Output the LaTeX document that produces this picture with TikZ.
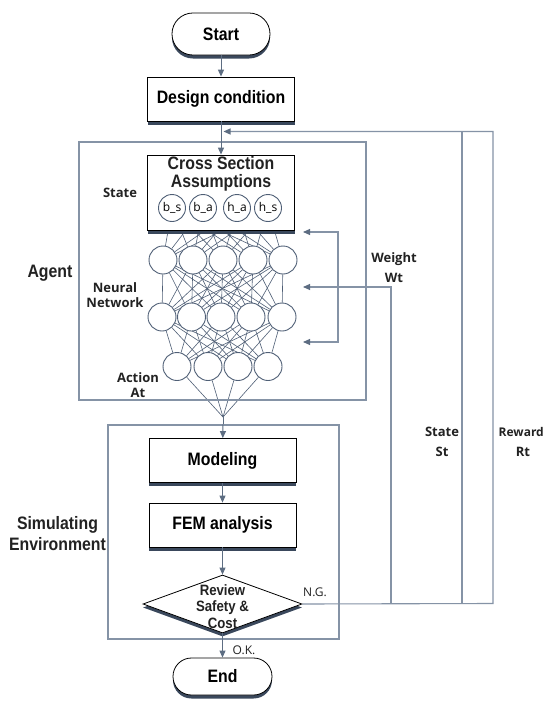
\documentclass[tikz,border=0pt]{standalone}
\usepackage{fontspec}
\setmainfont{Liberation Sans}
\newfontfamily\hfont[FakeStretch=0.88]{Liberation Sans}
\newfontfamily\lfont{Open Sans}
\usetikzlibrary{arrows.meta,shadows,shapes.geometric}
\pgfdeclarelayer{bg}
\pgfsetlayers{bg,main}
\definecolor{lc}{HTML}{5D6D82}
\definecolor{bc}{HTML}{8593A6}
\definecolor{cc}{HTML}{4F5F76}
\definecolor{sc}{HTML}{3A485C}
\definecolor{tc}{HTML}{222222}
\tikzset{
  shad/.style={drop shadow={shadow xshift=0pt,shadow yshift=-3.5pt,fill=sc,opacity=1}},
  termbox/.style={draw=black, line width=0.8pt, fill=white, shad,
    font=\hfont\bfseries\fontsize{18}{20}\selectfont},
  procbox/.style={draw=black, line width=0.8pt, fill=white, shad,
    minimum width=147pt, minimum height=44pt, inner sep=0pt,
    font=\hfont\bfseries\fontsize{18}{20}\selectfont},
  neuron/.style={circle, draw=cc, line width=0.9pt, fill=white, minimum size=28pt, inner sep=0pt},
  snode/.style={circle, draw=cc, line width=0.9pt, fill=white, minimum size=27pt, inner sep=0pt,
    font=\lfont\fontsize{12}{12}\selectfont},
  nnedge/.style={draw=cc, line width=0.6pt},
  conn/.style={draw=lc, line width=1pt, -{Triangle[length=7pt,width=6pt]}},
  fb/.style={draw=bc, line width=1.1pt},
  fbarrow/.style={fb, -{Triangle[length=7pt,width=6pt,color=lc]}},
  fbboth/.style={fb, {Triangle[length=7pt,width=6pt,color=lc]}-{Triangle[length=7pt,width=6pt,color=lc]}},
  groupbox/.style={draw=bc, line width=1.1pt, inner sep=0pt},
  hlab/.style={font=\hfont\bfseries\fontsize{18}{21}\selectfont, align=center, text=tc},
  slab/.style={font=\lfont\bfseries\fontsize{13}{15}\selectfont, align=center, text=tc},
  rlab/.style={font=\lfont\fontsize{12}{14}\selectfont, text=tc}
}
\begin{document}
\begin{tikzpicture}[x=1pt,y=-1pt]
\useasboundingbox (0,0) rectangle (545,704);
\begin{pgfonlayer}{bg}
\fill[white] (0,0) rectangle (545,704);
\end{pgfonlayer}

% group boxes
\node[groupbox, minimum width=287pt, minimum height=258pt] (agent) at (222.5,271) {};
\node[groupbox, minimum width=231pt, minimum height=214pt] (env) at (223.5,532) {};

% flow boxes
\node[termbox, minimum width=98pt, minimum height=42pt, rounded corners=20.9pt] (start) at (221,34) {Start};
\node[procbox] (design) at (221,99) {Design condition};
\node[procbox, minimum height=75pt] (cs) at (221,192.5) {};
\node[font=\hfont\bfseries\fontsize{18}{18}\selectfont, align=center, text=tc] (cst) at (221,174) {Cross Section\\Assumptions};
\node[procbox] (model) at (222.5,460.5) {Modeling};
\node[procbox] (fem) at (222.5,525) {FEM analysis};
\node[diamond, draw=black, line width=0.8pt, fill=white, shad, minimum width=159pt, minimum height=58pt, inner sep=0pt] (dia) at (222.5,604) {};
\node[font=\hfont\bfseries\fontsize{15}{16.5}\selectfont, align=center, text=tc] (diat) at (222.5,606.5) {Review\\Safety \&\\Cost};
\node[termbox, minimum width=99pt, minimum height=37pt, rounded corners=18.4pt] (end) at (222.5,676.5) {End};

% neurons
\node[snode] (s1) at (172,208) {b\_s};
\node[snode] (s2) at (203,208) {b\_a};
\node[snode] (s3) at (237,208) {h\_a};
\node[snode] (s4) at (268,208) {h\_s};
\foreach \i/\x in {1/163,2/193,3/223,4/253,5/283} \node[neuron] (a\i) at (\x,260) {};
\foreach \i/\x in {1/162,2/191.5,3/221,4/251,5/282} \node[neuron] (b\i) at (\x,317) {};
\foreach \i/\x in {1/177,2/208,3/238,4/268} \node[neuron] (c\i) at (\x,366.5) {};
\coordinate (cv) at (223,417);

\begin{pgfonlayer}{bg}
\foreach \i in {1,...,4} \foreach \j in {1,...,5} \draw[nnedge] (s\i) -- (a\j);
\foreach \i in {1,...,5} \foreach \j in {1,...,5} \draw[nnedge] (a\i) -- (b\j);
\foreach \i in {1,...,5} \foreach \j in {1,...,4} \draw[nnedge] (b\i) -- (c\j);
\foreach \i in {1,...,4} \draw[nnedge] (c\i) -- (cv);
\end{pgfonlayer}

% main connectors
\draw[conn] (start) -- (design);
\draw[conn] (design) -- (cs);
\draw[draw=lc, line width=1pt] (cv) -- (cv |- env.north);
\draw[conn] (cv |- env.north) -- (model);
\draw[conn] (model) -- (fem);
\draw[conn] (fem) -- (dia);
\draw[conn] (dia) -- (end);

% feedback loops
\coordinate (fbm) at (223.5,131.5);
\coordinate (rw) at (493,603.5);
\coordinate (st) at (462,603.5);
\coordinate (wt) at (391,603.5);
\coordinate (wtip) at (303,287);
\coordinate (w1) at (303,232);
\coordinate (w3) at (303,342);
\coordinate (bk1) at (338,232);
\coordinate (bk3) at (338,342);
\draw[fbarrow] (dia.east) -- (rw) |- (fbm);
\draw[fb] (st) -- (st |- fbm);
\draw[fbarrow] (wt) |- (wtip);
\draw[fbboth] (w1) -- (bk1) -- (bk3) -- (w3);

% labels
\node[hlab] (agentl) at (50,273) {Agent};
\node[hlab] (siml) at (57.5,533.5) {Simulating\\Environment};
\node[slab] (statel) at (120,193) {State};
\node[slab] (nnl) at (115,295.5) {Neural\\Network};
\node[slab] (actl) at (138,385) {Action\\At};
\node[slab, font=\lfont\bfseries\fontsize{13}{20}\selectfont] (wl) at (394,268) {Weight\\Wt};
\node[slab, font=\lfont\bfseries\fontsize{13}{20}\selectfont] (stl) at (442,442) {State\\St};
\node[slab, font=\lfont\bfseries\fontsize{12}{14}\selectfont, anchor=east, inner sep=0pt] (rwl) at (544,432) {Reward};
\node[slab] (rtl) at (523,452) {Rt};
\node[rlab] (okl) at (244,650) {O.K.};
\node[rlab] (ngl) at (315,592) {N.G.};
\end{tikzpicture}
\end{document}
